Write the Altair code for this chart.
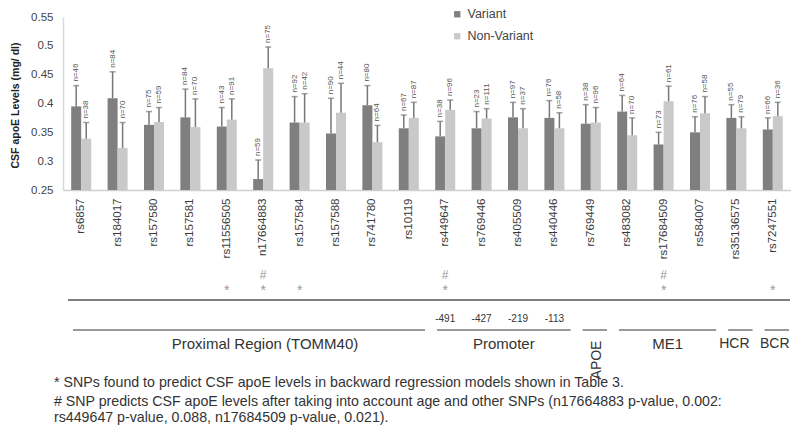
import altair as alt
import pandas as pd

snps = ["rs6857", "rs184017", "rs157580", "rs157581", "rs11556505", "n17664883",
        "rs157584", "rs157588", "rs741780", "rs10119", "rs449647", "rs769446",
        "rs405509", "rs440446", "rs769449", "rs483082", "rs17684509", "rs584007",
        "rs35136575", "rs7247551"]
var_mean = [0.395, 0.409, 0.363, 0.376, 0.360, 0.269, 0.367, 0.348, 0.397, 0.357,
            0.343, 0.357, 0.376, 0.375, 0.365, 0.386, 0.329, 0.350, 0.375, 0.355]
var_err = [0.036, 0.046, 0.023, 0.049, 0.033, 0.033, 0.045, 0.061, 0.034, 0.023,
           0.026, 0.029, 0.026, 0.030, 0.033, 0.028, 0.021, 0.027, 0.023, 0.020]
nonvar_mean = [0.339, 0.323, 0.368, 0.359, 0.372, 0.461, 0.367, 0.384, 0.333, 0.375,
               0.389, 0.374, 0.357, 0.357, 0.367, 0.345, 0.404, 0.383, 0.357, 0.378]
nonvar_err = [0.028, 0.044, 0.025, 0.049, 0.036, 0.037, 0.050, 0.051, 0.029, 0.027,
              0.017, 0.017, 0.034, 0.027, 0.026, 0.030, 0.026, 0.029, 0.020, 0.024]
var_n = [46, 84, 75, 84, 43, 59, 92, 90, 80, 67, 38, 23, 97, 76, 38, 64, 73, 76, 55, 66]
nonvar_n = [38, 70, 59, 70, 91, 75, 42, 44, 64, 87, 96, 111, 37, 58, 96, 70, 61, 58, 79, 36]

star_snps = ["rs11556505", "n17664883", "rs157584", "rs449647", "rs17684509", "rs7247551"]
hash_snps = ["n17664883", "rs449647", "rs17684509"]
promoter_snps = ["rs449647", "rs769446", "rs405509", "rs440446"]
promoter_pos = ["-491", "-427", "-219", "-113"]

region_names = ["Proximal Region (TOMM40)", "Promoter", "APOE", "ME1", "HCR", "BCR"]
region_start = [0, 10, 14, 15, 18, 19]
region_end = [10, 14, 15, 18, 19, 20]

y_ticks = [0.25, 0.3, 0.35, 0.4, 0.45, 0.5, 0.55]

footnotes = [
    "* SNPs found to predict CSF apoE levels in backward regression models shown in Table 3.",
    "# SNP predicts CSF apoE levels after taking into account age and other SNPs (n17664883 p-value, 0.002:",
    "rs449647 p-value, 0.088, n17684509 p-value, 0.021).",
]

FONT = "Liberation Sans"
W, H = 728, 173
DARK = "#7f7f7f"
LIGHT = "#c9c9c9"
TXT = "#333333"

rows = []
for i, s in enumerate(snps):
    rows.append({"snp": s, "type": "Variant", "mean": var_mean[i],
                 "top": var_mean[i] + var_err[i], "n": f"n={var_n[i]}"})
    rows.append({"snp": s, "type": "Non-Variant", "mean": nonvar_mean[i],
                 "top": nonvar_mean[i] + nonvar_err[i], "n": f"n={nonvar_n[i]}"})
df = pd.DataFrame(rows)

xenc = alt.X("snp:N", sort=snps,
             scale=alt.Scale(paddingInner=0.45, paddingOuter=0.225),
             axis=alt.Axis(title=None, labelAngle=270, labelFontSize=11.5, labelFont=FONT,
                           labelColor="#3a3a3a", labelPadding=8, ticks=False,
                           domainColor="#cfcfcf", domainWidth=1.5))
xoff = alt.XOffset("type:N", sort=["Variant", "Non-Variant"],
                   scale=alt.Scale(paddingInner=0, paddingOuter=0))
yscale = alt.Scale(domain=[0.25, 0.55], nice=False, zero=False)
yaxis = alt.Axis(title="CSF apoE Levels (mg/ dl)", values=y_ticks,
                 format=".2~f", grid=False, ticks=False, labelFontSize=11.5, labelFont=FONT,
                 labelColor="#444444", labelPadding=10, labelOverlap=False,
                 domainColor="#d9d9d9", domainWidth=1.5,
                 titleFont=FONT, titleFontSize=10.5, titleFontWeight="bold",
                 titleColor="#222222", titleX=-48, titleY=88, titleAngle=270,
                 titleAlign="center", titleBaseline="middle")

bars = alt.Chart(df).mark_bar().encode(
    x=xenc, xOffset=xoff,
    y=alt.Y("mean:Q", scale=yscale, axis=yaxis),
    y2=alt.datum(0.25),
    color=alt.Color("type:N", sort=["Variant", "Non-Variant"],
                    scale=alt.Scale(domain=["Variant", "Non-Variant"], range=[DARK, LIGHT]),
                    legend=alt.Legend(title=None, orient="none", legendX=388, legendY=-9,
                                      symbolType="square", symbolSize=40, labelFontSize=12.5,
                                      labelFont=FONT, labelColor="#444444", rowPadding=9,
                                      symbolStrokeWidth=0)),
)

err = alt.Chart(df).mark_rule(color="#777777", strokeWidth=1.5).encode(
    x=xenc, xOffset=xoff, y=alt.Y("mean:Q", scale=yscale, axis=yaxis), y2="top:Q")
caps = alt.Chart(df).mark_tick(color="#777777", orient="horizontal", size=6, thickness=1.5).encode(
    x=xenc, xOffset=xoff, y=alt.Y("top:Q", scale=yscale, axis=yaxis))
nlab = alt.Chart(df).mark_text(angle=270, align="left", baseline="middle", dx=4,
                               fontSize=8, font=FONT, color="#555555").encode(
    x=xenc, xOffset=xoff, y=alt.Y("top:Q", scale=yscale, axis=yaxis), text="n:N")

stars = alt.Chart(pd.DataFrame({"snp": star_snps})).mark_text(
    text="*", fontSize=14, font=FONT, color="#999999", baseline="middle").encode(
    x=xenc, y=alt.value(274))
hashes = alt.Chart(pd.DataFrame({"snp": hash_snps})).mark_text(
    text="#", fontSize=12, font=FONT, color="#999999", baseline="middle").encode(
    x=xenc, y=alt.value(258))
prom = alt.Chart(pd.DataFrame({"snp": promoter_snps, "pos": promoter_pos})).mark_text(
    fontSize=10, font=FONT, color=TXT, baseline="middle").encode(
    x=xenc, y=alt.value(302), text="pos:N")

topline = alt.Chart(pd.DataFrame({"a": [0]})).mark_rule(color="#555555", strokeWidth=1.5).encode(
    x=alt.value(5), x2=alt.value(727), y=alt.value(283))

band_layer = alt.layer(bars, err, caps, nlab, stars, hashes, prom)

reg = pd.DataFrame({"name": region_names, "start": region_start, "end": region_end})
reg["mid"] = (reg["start"] + reg["end"]) / 2
qx = alt.Scale(domain=[0, 20], nice=False, zero=False)
reglines = alt.Chart(reg).mark_rule(color="#777777", strokeWidth=1.5, xOffset=10, x2Offset=-2).encode(
    x=alt.X("start:Q", scale=qx, axis=None), x2="end:Q", y=alt.value(313))


def region_label(name, size, dx):
    return alt.Chart(reg[reg["name"] == name]).mark_text(
        fontSize=size, font=FONT, color=TXT, baseline="middle", dx=dx).encode(
        x=alt.X("mid:Q", scale=qx, axis=None), y=alt.value(327), text="name:N")


labels = [region_label("Proximal Region (TOMM40)", 15, 20),
          region_label("Promoter", 15, 4),
          region_label("ME1", 15, 4),
          region_label("HCR", 14, -2),
          region_label("BCR", 14, 2)]
apoe = alt.Chart(reg[reg["name"] == "APOE"]).mark_text(
    fontSize=14, font=FONT, color=TXT, baseline="middle", align="center", angle=270, dy=6).encode(
    x=alt.X("mid:Q", scale=qx, axis=None), y=alt.value(343), text="name:N")
region_layer = alt.layer(reglines, *labels, apoe)

one = pd.DataFrame({"a": [0]})
foot_layers = [
    alt.Chart(one).mark_text(text=t, fontSize=14.2, font=FONT, color=TXT, align="left",
                             baseline="middle").encode(x=alt.value(-9), y=alt.value(yy))
    for t, yy in zip(footnotes, [366, 385, 401])
]

chart = alt.layer(band_layer, region_layer, topline, *foot_layers).resolve_scale(
    x="independent").properties(
    width=W, height=H,
    autosize=alt.AutoSizeParams(type="none"),
    padding={"left": 55, "top": 9, "right": 0, "bottom": 236},
).configure_view(stroke=None).configure_axisY(labelOverlap=False)

chart.save("out.html", embed_options={"renderer": "svg", "actions": False})
